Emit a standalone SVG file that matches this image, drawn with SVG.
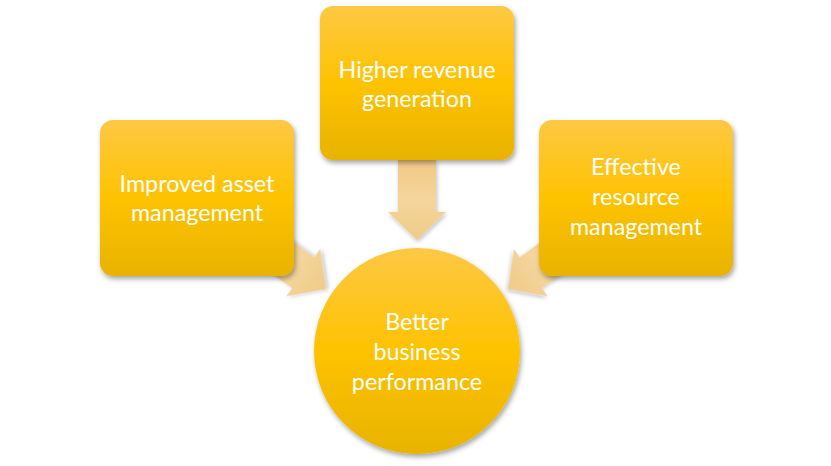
<svg xmlns="http://www.w3.org/2000/svg" width="831" height="466" viewBox="0 0 831 466">
<style>
.box{fill:url(#gold);filter:url(#sh)}
.arr{fill:url(#tan);filter:url(#sh2)}
.t{font-family:Lato,"Open Sans","Liberation Sans",sans-serif;font-size:23.3px;fill:#fff;text-anchor:middle}
</style>
<defs>
<linearGradient id="gold" x1="0" y1="0" x2="0" y2="1">
<stop offset="0" stop-color="#FEC844"/>
<stop offset="0.5" stop-color="#FEC300"/>
<stop offset="1" stop-color="#E8B300"/>
</linearGradient>
<linearGradient id="tan" x1="0" y1="0" x2="0" y2="1">
<stop offset="0" stop-color="#F0C987"/>
<stop offset="0.5" stop-color="#F4D59C"/>
<stop offset="1" stop-color="#EFCB88"/>
</linearGradient>
<filter id="sh" x="-20%" y="-20%" width="140%" height="140%">
<feDropShadow dx="1.5" dy="3" stdDeviation="2.5" flood-color="#000" flood-opacity="0.35"/>
</filter>
<filter id="sh2" x="-30%" y="-30%" width="160%" height="160%">
<feDropShadow dx="1" dy="2" stdDeviation="2" flood-color="#000" flood-opacity="0.25"/>
</filter>
<polygon id="arrow" points="-19,-80 19,-80 19,-28 29,-28 0,0 -29,-28 -19,-28"/>
</defs>
<rect width="831" height="466" fill="#fff"/>
<g id="connectors">
<use href="#arrow" class="arr" transform="translate(417,240)"/>
<use href="#arrow" class="arr" transform="translate(326,289) rotate(-54.4)"/>
<use href="#arrow" class="arr" transform="translate(508,289) rotate(54.4)"/>
</g>
<g id="node-left">
<rect class="box" x="100" y="120" width="194" height="156" rx="13"/>
<text class="t" x="197" y="192">Improved asset</text>
<text class="t" x="197" y="221">management</text>
</g>
<g id="node-top">
<rect class="box" x="320" y="6" width="194" height="154" rx="13"/>
<text class="t" x="417" y="78">Higher revenue</text>
<text class="t" x="417" y="107">generation</text>
</g>
<g id="node-right">
<rect class="box" x="539" y="120" width="194" height="156" rx="13"/>
<text class="t" x="636" y="175">Effective</text>
<text class="t" x="636" y="205">resource</text>
<text class="t" x="636" y="235">management</text>
</g>
<g id="node-center">
<circle class="box" cx="417" cy="351" r="103"/>
<text class="t" x="417" y="330">Better</text>
<text class="t" x="417" y="360">business</text>
<text class="t" x="417" y="390">performance</text>
</g>
</svg>
